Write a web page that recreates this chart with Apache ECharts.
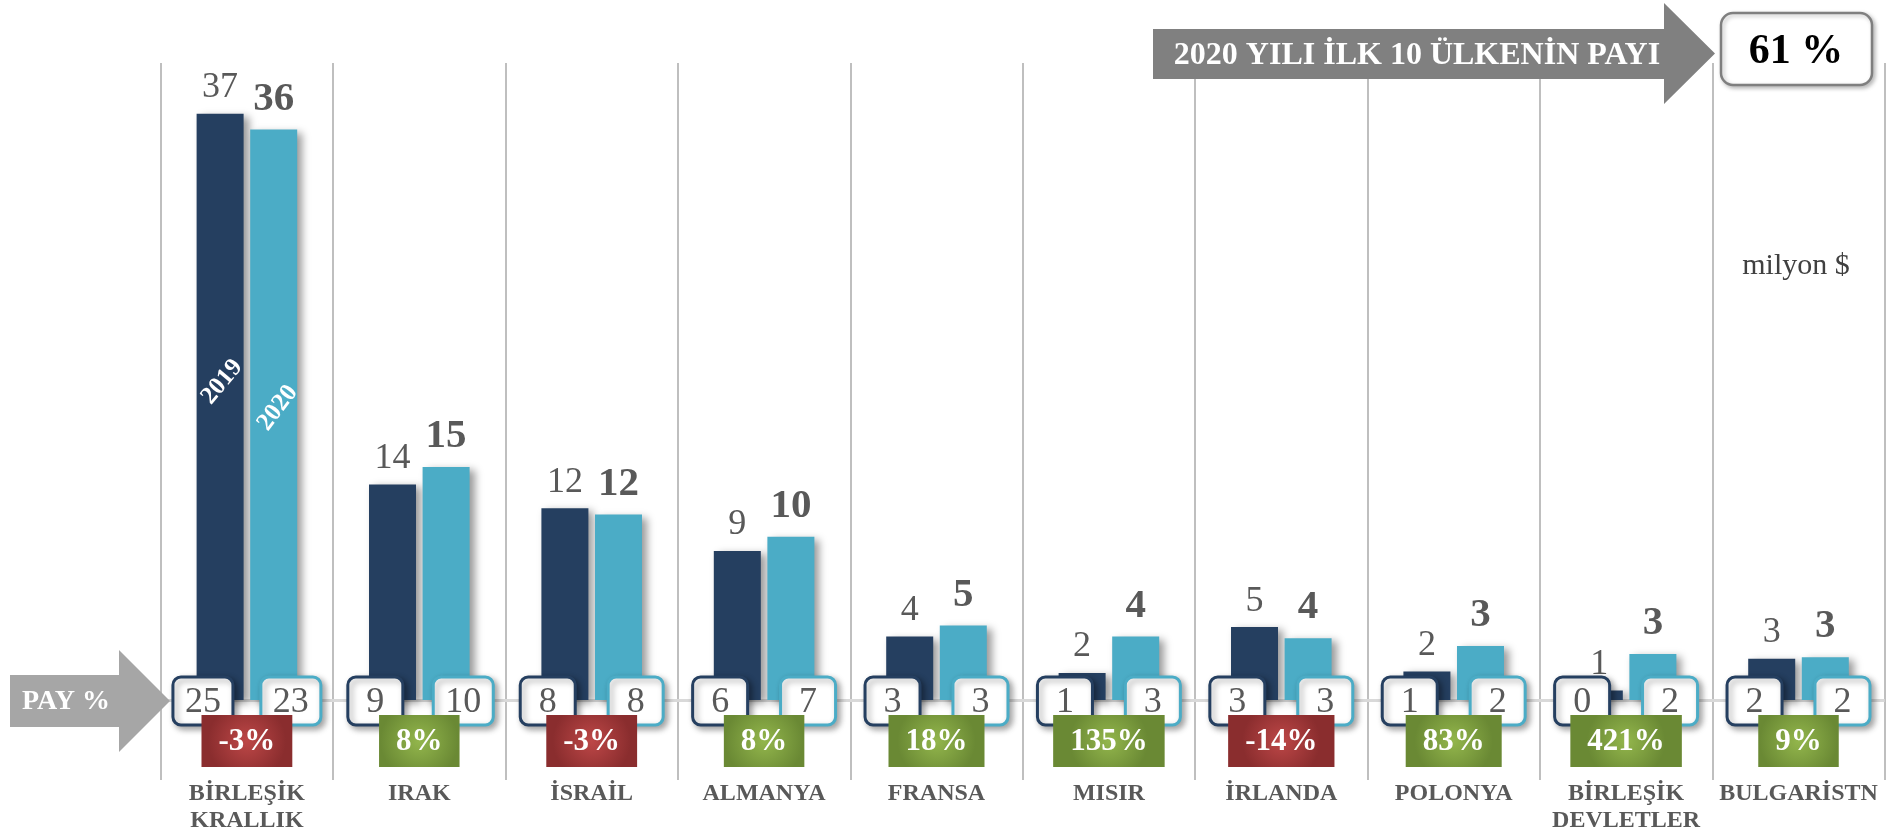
<!DOCTYPE html>
<html>
<head>
<meta charset="utf-8">
<script src="https://cdn.jsdelivr.net/npm/echarts@6/dist/echarts.min.js"></script>
<style>
html,body{margin:0;padding:0;background:#fff;}
#chart{width:1892px;height:835px;}
</style>
</head>
<body>
<div id="chart"></div>
<script>
// ---- data ----
const categories = ['BİRLEŞİK\nKRALLIK', 'IRAK', 'İSRAİL', 'ALMANYA', 'FRANSA', 'MISIR', 'İRLANDA', 'POLONYA', 'BİRLEŞİK\nDEVLETLER', 'BULGARİSTN'];
const values2019 = [37, 13.6, 12.1, 9.4, 4.0, 1.7, 4.6, 1.8, 0.6, 2.6];
const values2020 = [36, 14.7, 11.7, 10.3, 4.7, 4.0, 3.9, 3.4, 2.9, 2.7];
const share2019 = [25, 9, 8, 6, 3, 1, 3, 1, 0, 2];
const share2020 = [23, 10, 8, 7, 3, 3, 3, 2, 2, 2];
const changePct = [-3, 8, -3, 8, 18, 135, -14, 83, 421, 9];
const seriesNames = ['2019', '2020'];
const topTenShare = 61;
const unitLabel = 'milyon $';
const shareLabel = 'PAY %';
const topLabel = '2020 YILI İLK 10 ÜLKENİN PAYI';

// ---- style ----
const C19 = '#253F60';
const C20 = '#4BACC6';
const SERIF = '"Liberation Serif", "Times New Roman", serif';
const GRAY = '#595959';

const measureCtx = document.createElement('canvas').getContext('2d');
function textWidth(t, font) { measureCtx.font = font; return measureCtx.measureText(t).width; }

const chart = echarts.init(document.getElementById('chart'));

function renderShares(params, api) {
  const i = api.value(0);
  const base = api.coord([i, 0]);
  const band = api.size([1, 0])[0];
  const off = band * 0.255;
  const items = [[api.value(2), C19, -1], [api.value(3), C20, 1]];
  const children = [];
  items.forEach(function (it) {
    const txt = String(it[0]);
    const w = txt.length > 1 ? 60 : 55;
    const h = 48;
    const cx = base[0] + it[2] * off;
    const cy = base[1] + 1;
    children.push({
      type: 'rect',
      shape: { x: cx - w / 2, y: cy - h / 2, width: w, height: h, r: 8 },
      style: { fill: '#fff', stroke: it[1], lineWidth: 3, shadowColor: 'rgba(0,0,0,0.35)', shadowBlur: 6, shadowOffsetX: 3, shadowOffsetY: 3 }
    });
    children.push({
      type: 'text',
      x: cx, y: cy + 2,
      style: { text: txt, align: 'center', verticalAlign: 'middle', font: '36px ' + SERIF, fill: GRAY }
    });
  });
  return { type: 'group', children: children };
}

function renderChange(params, api) {
  const i = api.value(0);
  const v = api.value(2);
  const base = api.coord([i, 0]);
  const txt = v + '%';
  const font = 'bold 31px ' + SERIF;
  const w = textWidth(txt, font) + 34;
  const h = 52;
  const cx = base[0];
  const top = base[1] + 15;
  const pos = v >= 0;
  const fill = new echarts.graphic.RadialGradient(0.5, 0.5, 0.75, pos
    ? [{ offset: 0, color: '#93B64C' }, { offset: 1, color: '#6A8934' }]
    : [{ offset: 0, color: '#BD4747' }, { offset: 1, color: '#8A2D2E' }]);
  return {
    type: 'group',
    children: [
      { type: 'rect', shape: { x: cx - w / 2, y: top, width: w, height: h }, style: { fill: fill } },
      { type: 'text', x: cx, y: top + h / 2 + 1, style: { text: txt, align: 'center', verticalAlign: 'middle', font: font, fill: '#fff' } }
    ]
  };
}

function renderYearTags(params, api) {
  const i = api.value(0);
  const s = api.value(2);
  const base = api.coord([i, 0]);
  const half = 26.8;
  const cx = base[0] + (s === 0 ? -half + 2 : half + 4);
  const cy = base[1] - (s === 0 ? 318 : 292);
  return {
    type: 'text',
    x: cx, y: cy,
    rotation: (s === 0 ? 50 : 53) * Math.PI / 180,
    style: { text: seriesNames[s], align: 'center', verticalAlign: 'middle', font: 'bold 25px ' + SERIF, fill: '#fff' }
  };
}

const shareData = categories.map(function (c, i) { return [i, 0, share2019[i], share2020[i]]; });
const changeData = categories.map(function (c, i) { return [i, 0, changePct[i]]; });

const option = {
  animation: false,
  backgroundColor: '#fff',
  grid: { left: 160.7, right: 7.3, top: 63, bottom: 55, containLabel: false, outerBoundsMode: 'none' },
  xAxis: {
    type: 'category',
    data: categories,
    boundaryGap: true,
    axisLine: { show: false, onZero: false },
    axisTick: { show: false },
    axisLabel: { interval: 0, margin: 0, fontFamily: SERIF, fontWeight: 'bold', fontSize: 24, lineHeight: 27, color: GRAY },
    splitLine: { show: true, interval: 0, lineStyle: { color: '#BFBFBF', width: 2 } }
  },
  yAxis: { type: 'value', min: -5.05, max: 40.2, show: false },
  series: [
    {
      name: seriesNames[0], type: 'bar', data: values2019, barWidth: 47, barGap: '14%', z: 2,
      itemStyle: { color: C19, shadowColor: 'rgba(0,0,0,0.4)', shadowBlur: 8, shadowOffsetX: 5, shadowOffsetY: 3 },
      label: { show: true, position: 'top', distance: 8, fontFamily: SERIF, fontSize: 36, lineHeight: 36, color: GRAY,
        formatter: function (p) { return Math.round(p.value); } },
      markLine: {
        silent: true, symbol: 'none', z: 1,
        label: { show: false },
        lineStyle: { color: '#D9D9D9', width: 3, type: 'solid' },
        data: [{ yAxis: 0 }]
      }
    },
    {
      name: seriesNames[1], type: 'bar', data: values2020, barWidth: 47, z: 2,
      itemStyle: { color: C20, shadowColor: 'rgba(0,0,0,0.4)', shadowBlur: 8, shadowOffsetX: 5, shadowOffsetY: 3 },
      label: { show: true, position: 'top', distance: 10, fontFamily: SERIF, fontSize: 41, fontWeight: 'bold', lineHeight: 41, color: GRAY,
        formatter: function (p) { return Math.round(p.value); } }
    },
    {
      type: 'custom', name: 'yearTags', coordinateSystem: 'cartesian2d', z: 3,
      encode: { x: 0, y: 1 }, data: [[0, 0, 0], [0, 0, 1]], renderItem: renderYearTags, silent: true
    },
    {
      type: 'custom', name: 'share', coordinateSystem: 'cartesian2d', z: 4,
      encode: { x: 0, y: 1 }, data: shareData, renderItem: renderShares, silent: true
    },
    {
      type: 'custom', name: 'change', coordinateSystem: 'cartesian2d', z: 5,
      encode: { x: 0, y: 1 }, data: changeData, renderItem: renderChange, silent: true
    }
  ],
  graphic: [
    {
      type: 'polygon', z: 10,
      shape: { points: [[10, 675], [119, 675], [119, 650], [170, 701], [119, 752], [119, 727], [10, 727]] },
      style: { fill: '#A6A6A6' }
    },
    {
      type: 'text', z: 11, x: 66, y: 702,
      style: { text: shareLabel, align: 'center', verticalAlign: 'middle', font: 'bold 28px ' + SERIF, fill: '#fff' }
    },
    {
      type: 'polygon', z: 10,
      shape: { points: [[1153, 29], [1664, 29], [1664, 3], [1715, 53.5], [1664, 104], [1664, 79], [1153, 79]] },
      style: { fill: '#808080' }
    },
    {
      type: 'text', z: 11, x: 1417, y: 56,
      style: { text: topLabel, align: 'center', verticalAlign: 'middle', font: 'bold 32px ' + SERIF, fill: '#fff' }
    },
    {
      type: 'rect', z: 10,
      shape: { x: 1721, y: 13, width: 151, height: 72, r: 12 },
      style: { fill: '#fff', stroke: '#7F7F7F', lineWidth: 2.5, shadowColor: 'rgba(0,0,0,0.25)', shadowBlur: 4, shadowOffsetX: 2, shadowOffsetY: 2 }
    },
    {
      type: 'text', z: 11, x: 1796, y: 52,
      style: { text: topTenShare + ' %', align: 'center', verticalAlign: 'middle', font: 'bold 42px ' + SERIF, fill: '#000' }
    },
    {
      type: 'text', z: 11, x: 1796, y: 266,
      style: { text: unitLabel, align: 'center', verticalAlign: 'middle', font: '30px ' + SERIF, fill: '#404040' }
    }
  ]
};
chart.setOption(option);
</script>
</body>
</html>
